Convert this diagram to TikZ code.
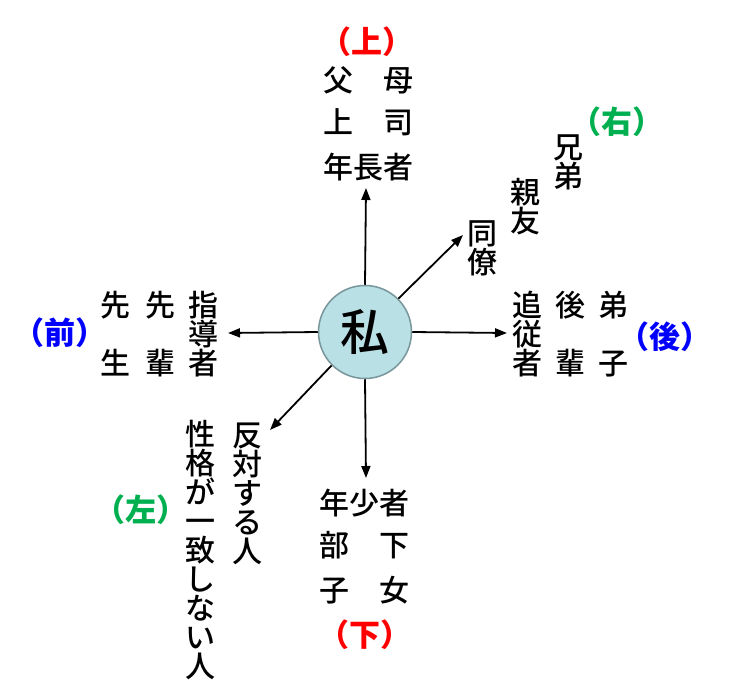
\documentclass[tikz,border=0pt]{standalone}
\usepackage{fontspec}
\IfFontExistsTF{Noto Sans CJK JP Medium}
  {\newfontfamily\jp{Noto Sans CJK JP Medium}}
  {\newfontfamily\jp{Noto Sans CJK JP}}
\newfontfamily\jpb{Noto Sans CJK JP}
\usetikzlibrary{arrows.meta}
\definecolor{circfill}{RGB}{185,224,228}
\definecolor{circdraw}{RGB}{120,150,155}
\definecolor{lblred}{RGB}{255,0,0}
\definecolor{lblgreen}{RGB}{0,176,80}
\definecolor{lblblue}{RGB}{0,0,255}
\tikzset{
  word/.style={inner sep=0pt, align=center, font=\jp\fontsize{30}{29}\selectfont},
  lbl/.style={inner sep=0pt, font=\jpb\bfseries\fontsize{31}{31}\selectfont},
  arr/.style={line width=1.8pt, -{Triangle[length=12pt,width=9pt]}},
}
\begin{document}
\begin{tikzpicture}[x=1pt,y=-1pt]
\useasboundingbox (0,0) rectangle (729,688);
\fill[white] (0,0) rectangle (729,688);
% centre
\node[circle, minimum size=93pt, inner sep=0pt, fill=circfill, draw=circdraw, line width=1.5pt,
      font=\jp\fontsize{49}{49}\selectfont] (me) at (365,332) {私};
% top
\node[lbl, text=lblred] (up) at (367,42) {（上）};
\node[word] (fubo) at (368,80) {父　母};
\node[word] (joushi) at (368,122) {上　司};
\node[word] (nenchou) at (368,167) {年長者};
\coordinate (tipup) at (366,188);
\draw[arr] (me.north) -- (tipup);
% bottom
\node[word] (nenshou) at (364,503) {年少者};
\node[word] (buka) at (364,545) {部　下};
\node[word] (shijo) at (364,590) {子　女};
\node[lbl, text=lblred] (down) at (365,635) {（下）};
\coordinate (tipdown) at (366,478);
\draw[arr] (me.south) -- (tipdown);
% left (front)
\node[lbl, text=lblblue] (mae) at (60,333) {（前）};
\node[word] (sensei) at (115,334) {先\\[29pt]生};
\node[word] (senpai) at (160,334) {先\\[29pt]輩};
\node[word] (shidou) at (203,334) {指\\導\\者};
\coordinate (tipleft) at (228,333);
\draw[arr] (me.west) -- (tipleft);
% right (back)
\node[word] (tsuijuu) at (527,334) {追\\従\\者};
\node[word] (kouhai) at (570,334) {後\\[29pt]輩};
\node[word] (deshi) at (613,334) {弟\\[29pt]子};
\node[lbl, text=lblblue] (ato) at (665,337) {（後）};
\coordinate (tipright) at (507,333);
\draw[arr] (me.east) -- (tipright);
% upper right
\node[word] (douryou) at (482,248) {同\\僚};
\node[word] (shinyuu) at (525,207) {親\\友};
\node[word] (kyoudai) at (568,162) {兄\\弟};
\node[lbl, text=lblgreen] (migi) at (617,122) {（右）};
\coordinate (tipur) at (463,235);
\draw[arr] (me.45) -- (tipur);
% lower left
\node[word] (hantai) at (247,494) {反\\対\\す\\る\\人};
\node[word] (seikaku) at (200,550) {性\\格\\が\\一\\致\\し\\な\\い\\人};
\node[lbl, text=lblgreen] (hidari) at (141,510) {（左）};
\coordinate (tipll) at (270,430);
\draw[arr] (me.225) -- (tipll);
\end{tikzpicture}
\end{document}
